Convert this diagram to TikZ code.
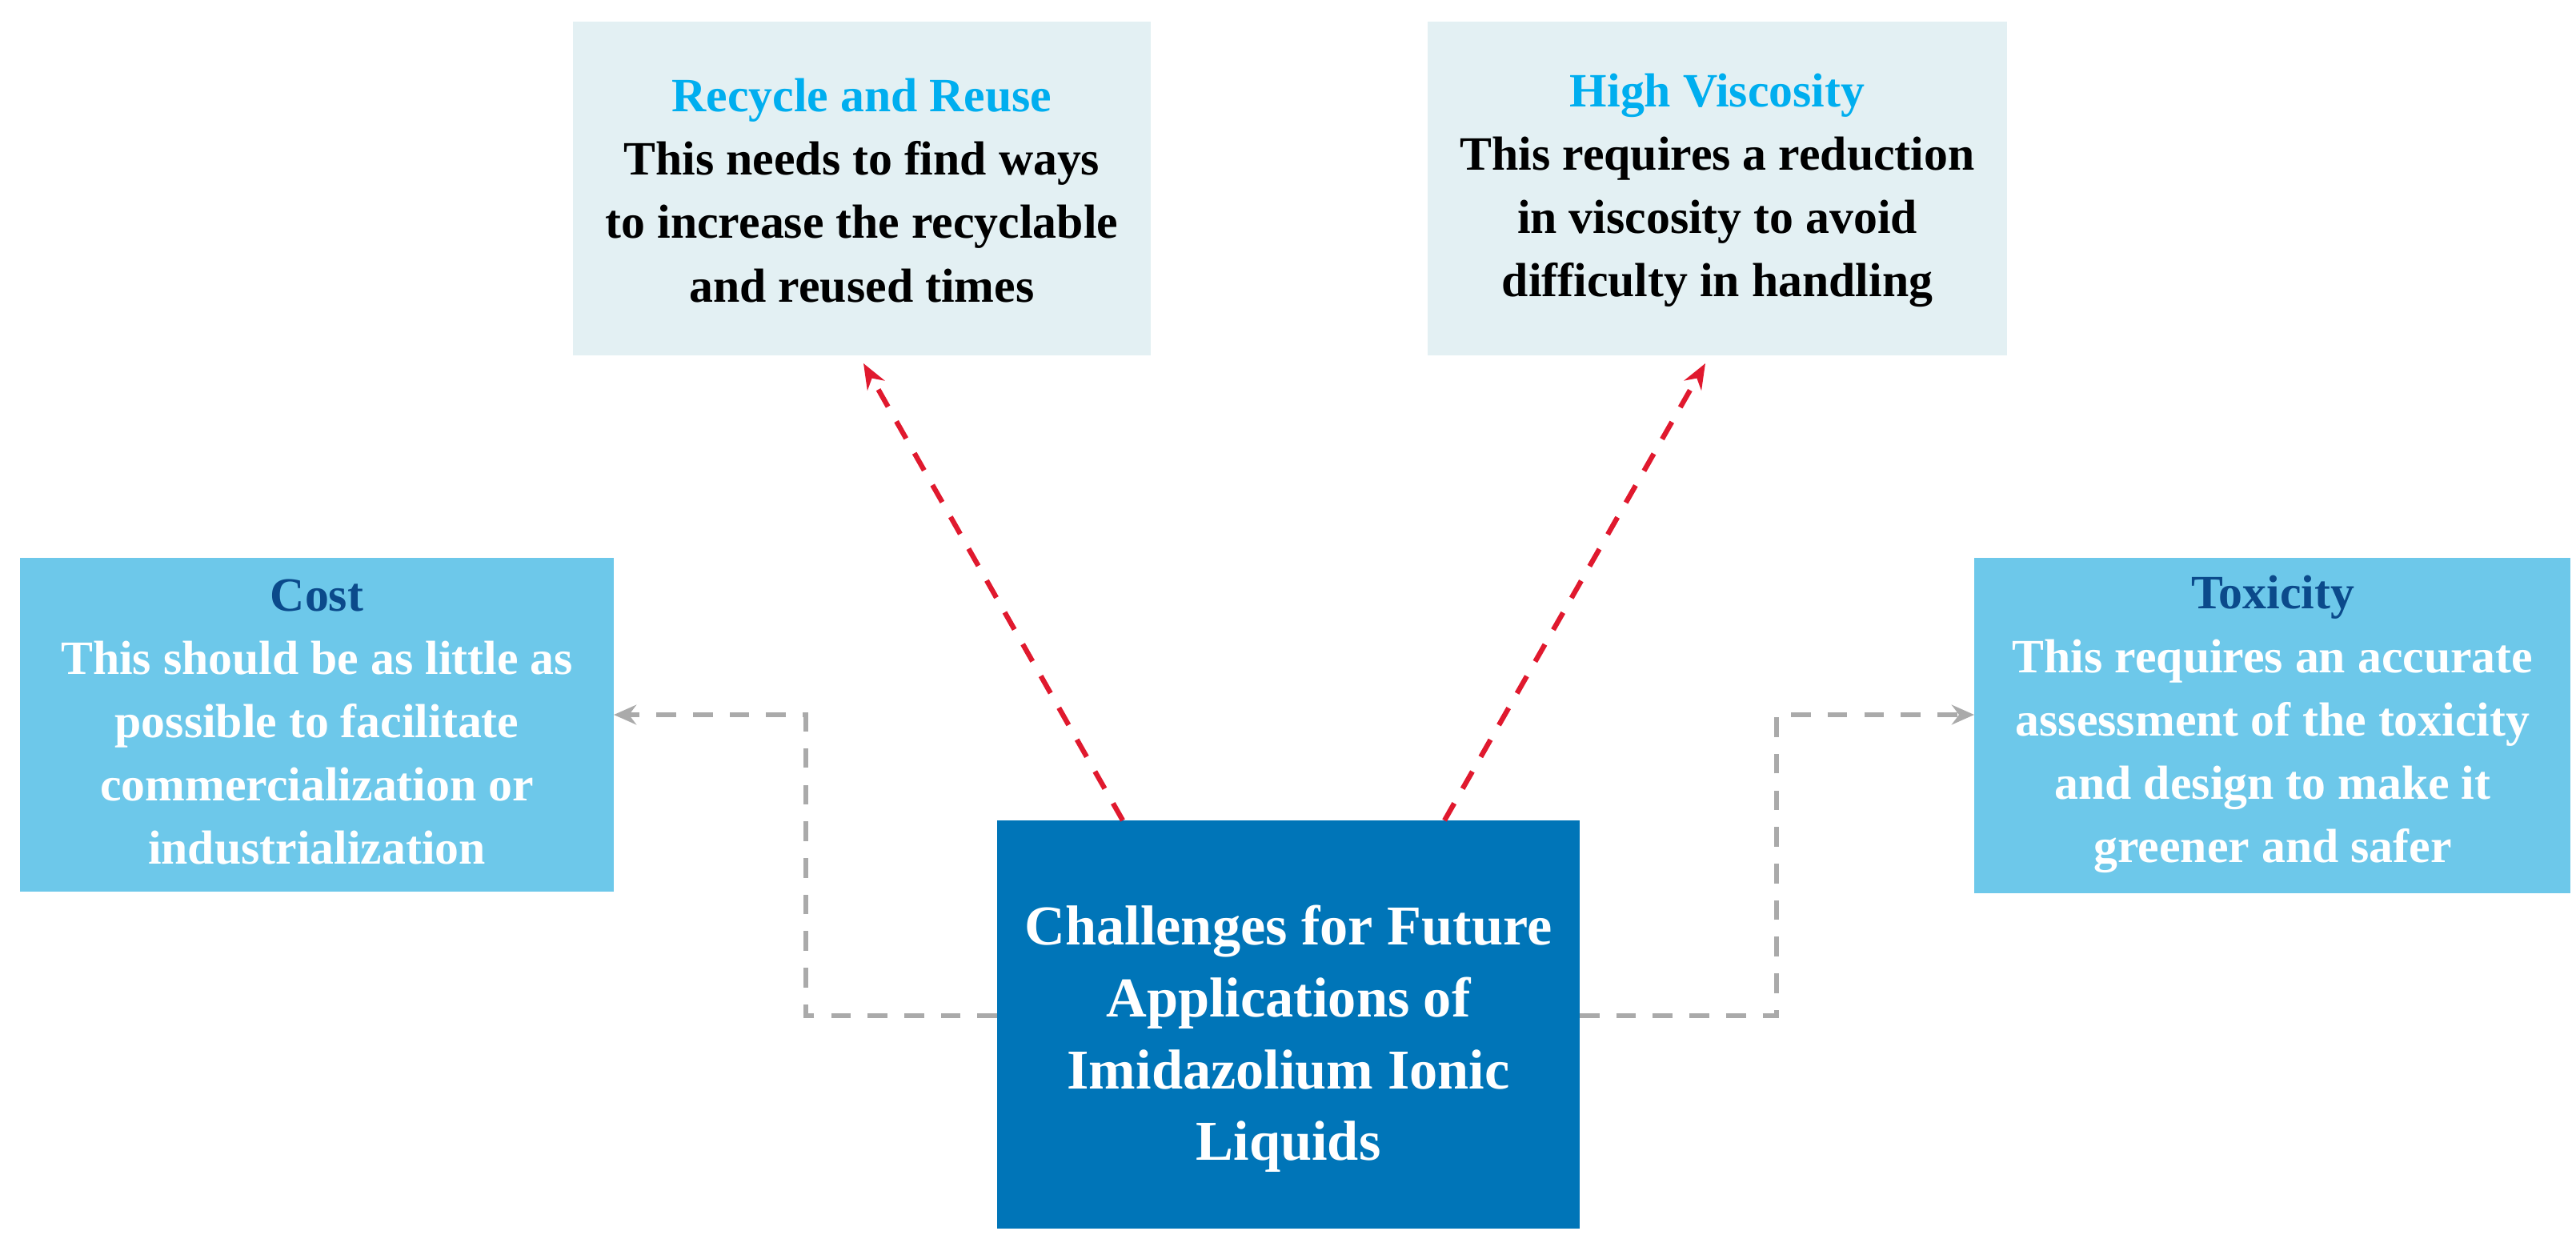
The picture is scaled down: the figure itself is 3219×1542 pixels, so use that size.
\documentclass[tikz,border=0pt]{standalone}
\usepackage{fontspec}
\setmainfont{Liberation Serif}
\usetikzlibrary{arrows.meta}
\definecolor{lightbox}{HTML}{E3F0F3}
\definecolor{midbox}{HTML}{6DC8EA}
\definecolor{centerbox}{HTML}{0075B8}
\definecolor{cyantitle}{HTML}{00AEEF}
\definecolor{darktitle}{HTML}{0B4A8B}
\definecolor{redline}{HTML}{E0192E}
\definecolor{grayline}{HTML}{AAAAAA}
\begin{document}
\begin{tikzpicture}[x=0.01cm,y=-0.01cm,
  box/.style={draw=none,inner sep=0pt,align=center,font=\bfseries\fontsize{17}{22.5}\selectfont},
  redarrow/.style={draw=redline,line width=1.8pt,dash pattern=on 7pt off 6pt,-{Stealth[length=9pt,width=7pt]}},
  grayarrow/.style={draw=grayline,line width=1.8pt,dash pattern=on 7pt off 6pt,-{Stealth[length=8pt,width=7pt]}}]
\useasboundingbox (0,0) rectangle (3219,1542);
\fill[lightbox] (716,27) rectangle (1438,444);
\fill[lightbox] (1784,27) rectangle (2508,444);
\fill[midbox] (25,697) rectangle (767,1114);
\fill[midbox] (2467,697) rectangle (3212,1116);
\fill[centerbox] (1246,1025) rectangle (1974,1535);
\node[box] (recycle) at (1077,238) {\textcolor{cyantitle}{Recycle and Reuse}\\This needs to find ways\\to increase the recyclable\\and reused times};
\node[box] (visc) at (2146,238) {\textcolor{cyantitle}{High Viscosity}\\This requires a reduction\\in viscosity to avoid\\difficulty in handling};
\node[box,text=white] (cost) at (396,902) {\textcolor{darktitle}{Cost}\\This should be as little as\\possible to facilitate\\commercialization or\\industrialization};
\node[box,text=white] (tox) at (2840,905) {\textcolor{darktitle}{Toxicity}\\This requires an accurate\\assessment of the toxicity\\and design to make it\\greener and safer};
\node[box,text=white,font=\bfseries\fontsize{20}{25.5}\selectfont] (center) at (1610,1298) {Challenges for Future\\Applications of\\Imidazolium Ionic\\Liquids};
\coordinate (cl) at (1246,1269);
\coordinate (cr) at (1974,1269);
\coordinate (ctl) at (1403,1025);
\coordinate (ctr) at (1805,1025);
\coordinate (costR) at (767,893);
\coordinate (toxL) at (2467,893);
\coordinate (recB) at (1079,454);
\coordinate (visB) at (2131,454);
\draw[redarrow] (ctl) -- (recB);
\draw[redarrow] (ctr) -- (visB);
\draw[grayarrow] (cl) -- (1007,1269) -- (1007,893) -- (costR);
\draw[grayarrow] (cr) -- (2220,1269) -- (2220,893) -- (toxL);
\end{tikzpicture}
\end{document}
